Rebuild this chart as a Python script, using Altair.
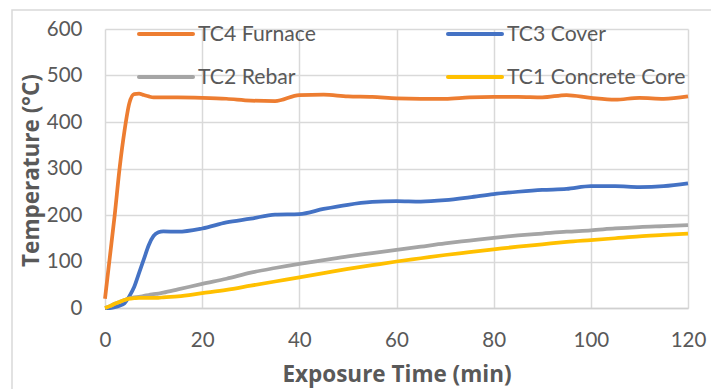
import altair as alt
import pandas as pd

# ---- data ----
times = [0, 1, 2, 3, 4, 5, 6, 7, 8, 9, 10, 11, 12, 15, 20, 25, 30, 35, 40, 45,
         50, 55, 60, 65, 70, 75, 80, 85, 90, 95, 100, 105, 110, 115, 120]
tc4_furnace = [20, 110, 200, 300, 380, 440, 460, 461, 458, 455, 453, 453, 453, 453, 452, 450, 446, 445, 458, 459,
               455, 454, 451, 450, 450, 453, 454, 454, 453, 458, 452, 448, 452, 450, 455]
tc3_cover = [0, 0, 2, 5, 10, 25, 45, 75, 105, 135, 155, 163, 165, 164, 171, 184, 192, 201, 202, 213,
             222, 228, 230, 229, 232, 238, 245, 250, 254, 256, 262, 262, 260, 262, 268]
tc2_rebar = [0, 4, 9, 13, 17, 21, 23, 24, 26, 28, 30, 31, 33, 40, 52, 63, 76, 86, 95, 103,
             111, 118, 125, 132, 139, 145, 151, 156, 160, 164, 167, 171, 174, 176, 178]
tc1_core = [0, 4, 9, 13, 17, 20, 21, 22, 22, 22, 22, 22, 23, 25, 32, 39, 48, 57, 66, 75,
            84, 92, 100, 107, 114, 120, 126, 132, 137, 142, 146, 150, 154, 157, 160]

series_names = ["TC4 Furnace", "TC3 Cover", "TC2 Rebar", "TC1 Concrete Core"]
series_values = [tc4_furnace, tc3_cover, tc2_rebar, tc1_core]
series_colors = ["#ED7D31", "#4472C4", "#A5A5A5", "#FFC000"]

x_ticks = [0, 20, 40, 60, 80, 100, 120]
y_ticks = [0, 100, 200, 300, 400, 500, 600]

rows = []
for name, vals in zip(series_names, series_values):
    for t, v in zip(times, vals):
        rows.append({"series": name, "time": t, "temp": v})
df = pd.DataFrame(rows)

FONT = "Lato"
TFONT = "Open Sans"
TXT = "#595959"
W, H = 583, 279

x_enc = alt.X(
    "time:Q",
    scale=alt.Scale(domain=[0, 120], nice=False, zero=False),
    axis=alt.Axis(
        values=x_ticks, title="Exposure Time (min)", grid=True, ticks=False, tickSize=0,
        labelFont=FONT, labelFontSize=20.5, labelColor=TXT, labelBaseline="alphabetic",
        labelPadding=38, labelFlush=False,
        titleFont=TFONT, titleFontSize=22.5, titleFontWeight="bold", titleColor=TXT,
        titleBaseline="alphabetic", titleY=73, titleX=W / 2,
        domainColor="#d0d0d0", domainWidth=1.5,
    ),
)
y_enc = alt.Y(
    "temp:Q",
    scale=alt.Scale(domain=[0, 600], nice=False),
    axis=alt.Axis(
        values=y_ticks, title="Temperature (°C)", grid=True, ticks=False, tickSize=0,
        labelFont=FONT, labelFontSize=20.5, labelColor=TXT, labelPadding=23,
        labelBaseline="middle", labelFlush=False,
        titleFont=TFONT, titleFontSize=22.5, titleFontWeight="bold", titleColor=TXT,
        titleBaseline="alphabetic", titleX=-67, titleY=141, titleAngle=-90,
        domain=False,
    ),
)

base = alt.Chart(df)

# outer frame of the chart area
frame = alt.Chart(pd.DataFrame({"k": [0]})).mark_rect(
    fill=None, stroke="#d9d9d9", strokeWidth=1.5
).encode(x=alt.value(-93), x2=alt.value(620), y=alt.value(-19), y2=alt.value(380))

layers = [frame]
for name, color in zip(series_names, series_colors):
    layers.append(
        base.transform_filter(alt.datum.series == name)
        .mark_line(color=color, strokeWidth=3.75, interpolate="monotone")
        .encode(x=x_enc, y=y_enc)
    )

# legend (2 columns, row-major)
leg_pos = [(34, 5, 93, 12), (343, 5, 402, 12), (34, 48, 93, 55), (343, 48, 402, 55)]
for name, color, (lx, ly, tx, ty) in zip(series_names, series_colors, leg_pos):
    ld = pd.DataFrame({"series": [name]})
    layers.append(
        alt.Chart(ld).mark_rule(color=color, strokeWidth=4, strokeCap="round")
        .encode(x=alt.value(lx), x2=alt.value(lx + 54), y=alt.value(ly))
    )
    layers.append(
        alt.Chart(ld).mark_text(font=FONT, fontSize=21.2, color=TXT, align="left", baseline="alphabetic")
        .encode(x=alt.value(tx), y=alt.value(ty), text="series:N")
    )

chart = alt.layer(*layers).properties(
    width=W, height=H,
    autosize=alt.AutoSizeParams(type="none"),
    padding={"left": 105, "top": 29, "right": 23, "bottom": 81},
    background="white",
).configure_view(stroke=None).configure_axis(
    gridColor="#d9d9d9", gridWidth=1.5
)

chart.save("out.html", embed_options={"renderer": "svg", "actions": False})
